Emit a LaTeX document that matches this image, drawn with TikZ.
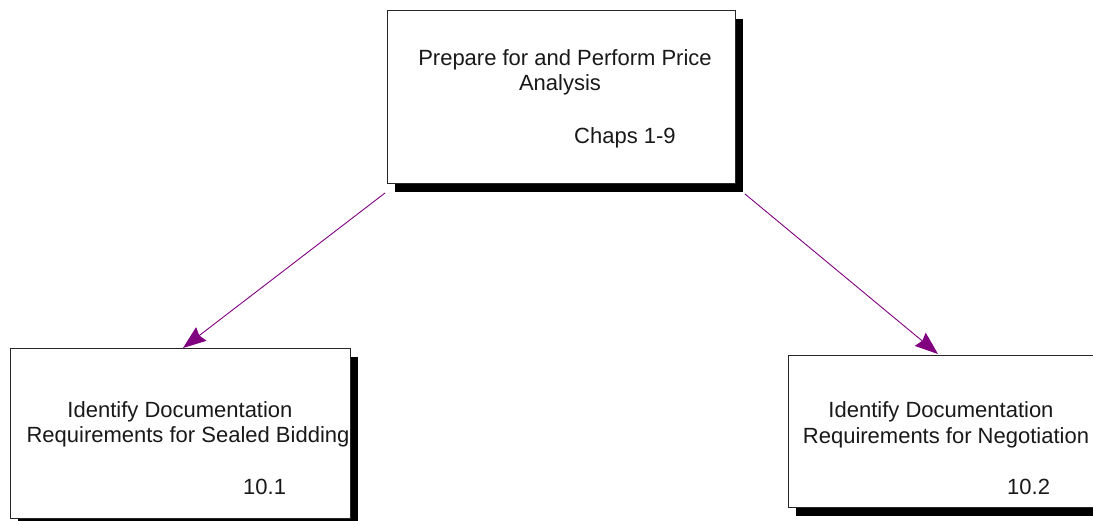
\documentclass[tikz,border=0pt]{standalone}
\usepackage{fontspec}
\setmainfont{Liberation Sans}
\usetikzlibrary{arrows.meta,shadows,calc}
\definecolor{flowpurple}{RGB}{128,0,128}
\begin{document}
\begin{tikzpicture}[x=1pt,y=-1pt,
  procbox/.style={draw=black!85, line width=1pt, fill=white, rectangle,
    inner sep=0pt, anchor=north west,
    drop shadow={shadow xshift=7pt, shadow yshift=-8pt, fill=black, opacity=1}},
  lbl/.style={inner sep=0pt, anchor=base, text=black!90,
    font=\fontsize{22pt}{26pt}\selectfont},
  num/.style={lbl, anchor=base west},
  conn/.style={draw=flowpurple, line width=0.9pt,
    -{Stealth[length=23pt, width=17pt, inset=2.5pt, fill=flowpurple]}}]
  \useasboundingbox (0,0) rectangle (1093,520);
  \clip (0,0) rectangle (1093,520);

  % process boxes
  \node[procbox, minimum width=348pt, minimum height=173pt] (top) at (387,10) {};
  \node[procbox, minimum width=340pt, minimum height=170pt] (bl) at (10,348) {};
  \node[procbox, minimum width=340pt, minimum height=152pt] (br) at (788,355) {};

  % labels of the upper box
  \node[lbl] (t1) at (565,65) {Prepare for and Perform Price};
  \node[lbl] (t2) at (560,90) {Analysis};
  \node[num] (t3) at (574,143) {Chaps 1-9};

  % labels of the lower left box
  \node[lbl] (l1) at (180,417) {Identify Documentation};
  \node[lbl] (l2) at (188,442) {Requirements for Sealed Bidding};
  \node[num] (l3) at (243,494) {10.1};

  % labels of the lower right box
  \node[lbl] (r1) at (941,417) {Identify Documentation};
  \node[lbl] (r2) at (946,443) {Requirements for Negotiation};
  \node[num] (r3) at (1007,494) {10.2};

  % connector end points
  \coordinate (s1) at ($(top.south west)+(-2,9)$);
  \coordinate (e1) at ($(bl.north west)+(173,0)$);
  \coordinate (s2) at ($(top.south east)+(9,10)$);
  \coordinate (e2) at ($(br.north west)+(150,-1)$);

  \draw[conn] (s1) -- (e1);
  \draw[conn] (s2) -- (e2);
\end{tikzpicture}
\end{document}
